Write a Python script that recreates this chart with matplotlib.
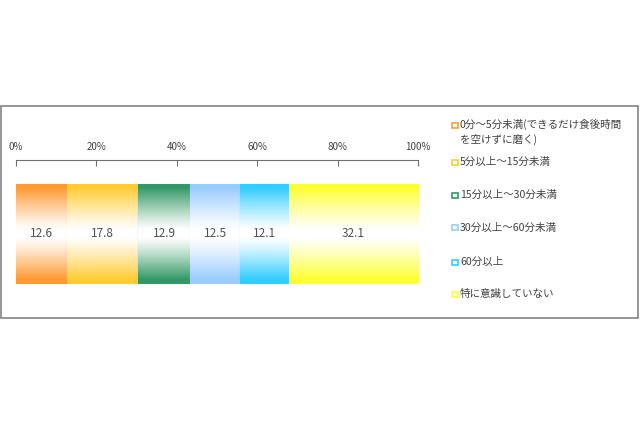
import matplotlib.pyplot as plt
import matplotlib.patches as mpatches
import numpy as np
from matplotlib.colors import to_rgb

plt.rcParams['font.family'] = ['Noto Sans CJK JP', 'DejaVu Sans']

labels = ['0分〜5分未満(できるだけ食後時間\nを空けずに磨く)', '5分以上〜15分未満', '15分以上〜30分未満',
          '30分以上〜60分未満', '60分以上', '特に意識していない']
values = [12.6, 17.8, 12.9, 12.5, 12.1, 32.1]
colors = ['#ff9933', '#ffcc33', '#339966', '#99ccff', '#33ccff', '#ffff33']
ticks = [0, 20, 40, 60, 80, 100]
tick_labels = ['0%', '20%', '40%', '60%', '80%', '100%']

fig = plt.figure(figsize=(6.4, 4.26), dpi=100)

# outer frame
fig.patches.append(mpatches.Rectangle((1/640, 1-318/426), 637/640, 212/426, transform=fig.transFigure,
                                      fill=False, edgecolor='#8c8c8c', linewidth=1.3))

ax = fig.add_axes([16/640, 1-300/426, 402/640, 140/426])

# vertical profile: colour at the edges, white in the middle
prof = np.abs(np.linspace(-1, 1, 200))
prof = np.clip((prof - 0.08) / 0.85, 0, 1) ** 1.15

left = 0
for v, c in zip(values, colors):
    bar = ax.barh(0.475, v, left=left, height=0.707, color='none', edgecolor=c, linewidth=0.8)[0]
    rgb = np.array(to_rgb(c))
    img = 1 - (1 - rgb)[None, :] * prof[:, None]
    img = np.repeat(img[:, None, :], 2, axis=1)
    im = ax.imshow(img, extent=[left, left + v, 0.475 - 0.3535, 0.475 + 0.3535], aspect='auto',
                   interpolation='bilinear', zorder=1)
    im.set_clip_path(bar)
    ax.text(left + v / 2, 0.475, f'{v:.1f}', ha='center', va='center', fontsize=8.5, color='#505050',
            zorder=3)
    left += v
ax.set_xlim(0, 100)
ax.set_ylim(0, 1)

ax.xaxis.tick_top()
ax.set_xticks(ticks)
ax.set_xticklabels(tick_labels, fontsize=7, color='#404040')
ax.tick_params(axis='x', direction='in', length=4, color='#707070', pad=6)
ax.set_yticks([])
for s in ['bottom', 'left', 'right']:
    ax.spines[s].set_visible(False)
ax.spines['top'].set_color('#707070')

# legend
leg_y = [125, 162, 195, 228, 262, 294]
for lab, c, y in zip(labels, colors, leg_y):
    yf = 1 - y / 426
    if '\n' in lab:
        ty, va = yf + 6 / 426, 'top'
    else:
        ty, va = yf, 'center'
    fig.patches.append(mpatches.Rectangle((452/640, yf - 2.5/426), 6/640, 5/426, transform=fig.transFigure,
                                          facecolor='#ffffff', edgecolor=c, linewidth=1.2))
    fig.text(460/640, ty, lab, fontsize=7.6, color='#404040', va=va, ha='left', linespacing=1.4)

fig.savefig('out.png', dpi=100)
